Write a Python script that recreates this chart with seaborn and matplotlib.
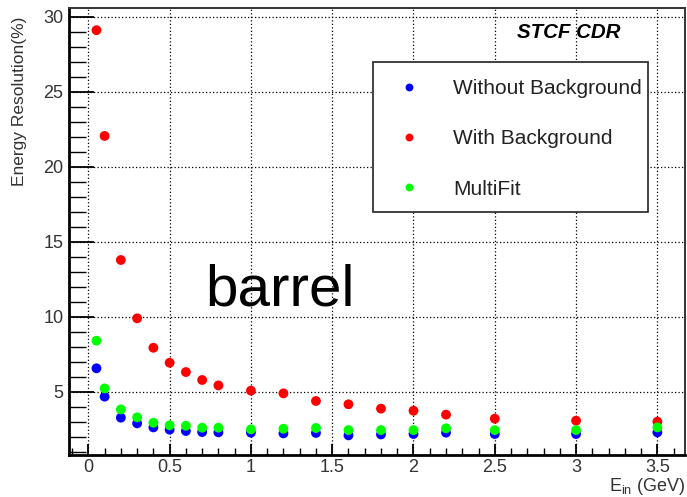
import numpy as np
import pandas as pd
import matplotlib
matplotlib.use("Agg")
import matplotlib.pyplot as plt
from matplotlib.patches import Rectangle
from matplotlib.ticker import MultipleLocator
import seaborn as sns

# Photon energy points (GeV)
energy = [0.05, 0.1, 0.2, 0.3, 0.4, 0.5, 0.6, 0.7, 0.8, 1.0,
          1.2, 1.4, 1.6, 1.8, 2.0, 2.2, 2.5, 3.0, 3.5]

# Energy resolution (%) for each reconstruction scenario
res_no_bkg = [6.56, 4.67, 3.27, 2.89, 2.62, 2.47, 2.38, 2.31, 2.29, 2.27,
              2.22, 2.25, 2.09, 2.15, 2.18, 2.27, 2.18, 2.18, 2.29]
res_bkg = [29.1, 22.05, 13.78, 9.89, 7.93, 6.93, 6.31, 5.78, 5.42, 5.07,
           4.89, 4.38, 4.16, 3.87, 3.73, 3.47, 3.20, 3.07, 3.00]
res_multifit = [8.40, 5.22, 3.82, 3.29, 2.93, 2.76, 2.73, 2.60, 2.60, 2.49,
                2.53, 2.58, 2.44, 2.44, 2.44, 2.56, 2.44, 2.44, 2.62]

series_names = ["Without Background", "With Background", "MultiFit"]
series_colors = ["#0000ff", "#ff0000", "#00ff00"]

df = pd.concat([
    pd.DataFrame({"E": energy, "res": vals, "case": name})
    for name, vals in zip(series_names, [res_no_bkg, res_bkg, res_multifit])
], ignore_index=True)

sns.set_theme(style="white")
plt.rcParams["font.family"] = ["Liberation Sans", "DejaVu Sans"]
plt.rcParams["mathtext.fontset"] = "custom"
plt.rcParams["mathtext.rm"] = "Liberation Sans"

W, H = 687, 497
fig = plt.figure(figsize=(W / 100, H / 100), dpi=100)
ax = fig.add_axes([69 / W, 1 - 455 / H, (685 - 69) / W, (455 - 8) / H])

sns.scatterplot(data=df, x="E", y="res", hue="case", hue_order=series_names,
                palette=series_colors, s=50, linewidth=0, ax=ax, legend=True,
                zorder=3)

ax.set_xlim(-0.119, 3.67)
ax.set_ylim(0.78, 30.58)

ax.xaxis.set_minor_locator(MultipleLocator(0.1))
ax.yaxis.set_minor_locator(MultipleLocator(1))
ax.set_xticks([0, 0.5, 1, 1.5, 2, 2.5, 3, 3.5])
ax.set_xticklabels(["0", "0.5", "1", "1.5", "2", "2.5", "3", "3.5"])
ax.set_yticks([5, 10, 15, 20, 25, 30])

ax.tick_params(axis="both", which="both", direction="in", color="black",
               labelcolor="#333333", labelsize=13)
ax.tick_params(axis="x", which="major", length=8, width=1.3, pad=3)
ax.tick_params(axis="x", which="minor", length=5, width=1.0)
ax.tick_params(axis="y", which="major", length=18, width=1.3, pad=4)
ax.tick_params(axis="y", which="minor", length=12, width=1.0)
ax.xaxis.set_ticks_position("bottom")
ax.yaxis.set_ticks_position("left")

ax.grid(True, which="major", linestyle=(0, (1.0, 1.8)), color="black",
        linewidth=0.9, zorder=0)
ax.set_axisbelow(True)

for side in ["left", "bottom"]:
    ax.spines[side].set_linewidth(2.0)
    ax.spines[side].set_color("black")
for side in ["top", "right"]:
    ax.spines[side].set_linewidth(1.4)
    ax.spines[side].set_color("#333333")

ax.set_xlabel("")
ax.set_ylabel("")
fig.text(20 / W, 1 - 17 / H, "Energy Resolution(%)", rotation=90,
         ha="center", va="top", fontsize=12.5, color="#333333")
fig.text(685 / W, 1 - 491 / H, r"E$_{\mathrm{in}}$ (GeV)",
         ha="right", va="baseline", fontsize=13, color="#333333")

fig.text(517 / W, 1 - 32 / H, "STCF CDR", ha="left", va="center",
         fontsize=14.8, fontweight="bold", fontstyle="italic", color="black")
fig.text(205 / W, 1 - 306 / H, "barrel", ha="left", va="baseline",
         fontsize=42, color="black")

# Legend entries without a frame; the box is drawn separately so the
# text can sit close to its right edge
handles, labels = ax.get_legend_handles_labels()
leg = ax.legend(handles, labels, loc="upper left",
                bbox_to_anchor=(370.7 / W, 1 - 63.5 / H),
                bbox_transform=fig.transFigure, borderaxespad=0,
                frameon=False, fontsize=15, markerscale=0.8,
                handletextpad=1.0, labelspacing=1.5, borderpad=0.75,
                handlelength=2.2)
for t in leg.get_texts():
    t.set_color("#222222")

box = Rectangle((372.7 / W, 1 - 211.7 / H), (648.3 - 372.7) / W,
                (211.7 - 62.3) / H, transform=fig.transFigure,
                facecolor="white", edgecolor="#333333", linewidth=1.3,
                zorder=4)
ax.add_artist(box)
box.set_clip_on(False)
leg.set_zorder(5)

fig.savefig("out.png", dpi=100)
